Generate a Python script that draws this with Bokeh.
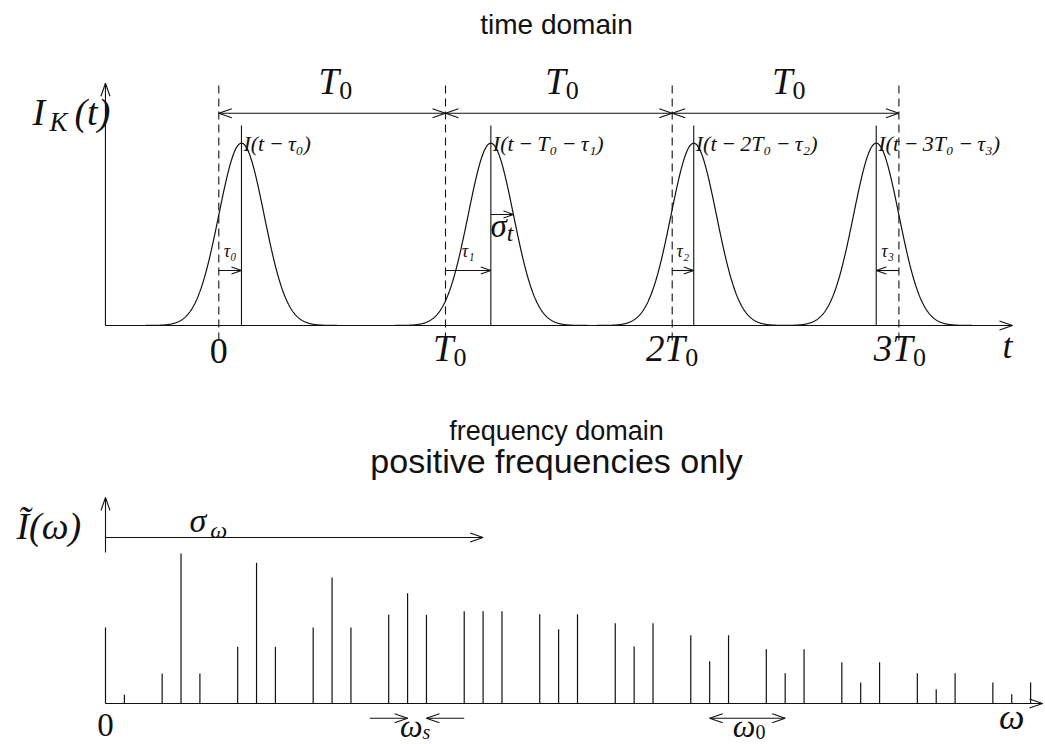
import numpy as np
from bokeh.plotting import figure
from bokeh.models import Range1d
from bokeh.layouts import column
from bokeh.embed import file_html
from bokeh.resources import INLINE
from bokeh.core.properties import value

# ---------------- data: time domain (t in units of T0) ----------------
pulse_index = [0, 1, 2, 3]
pulse_delay = [0.10, 0.20, 0.095, -0.10]      # tau_n / T0
sigma_t = 0.10                                 # pulse width / T0
tick_bases = ["", "T", "2T", "3T"]             # tick labels: base + subscript "0"
period_labels = ["T", "T", "T"]                # with subscript "0"
peak_labels = ["I(t\u2009−\u2009τ₀)", "I(t\u2009−\u2009T₀\u2009−\u2009τ₁)",
               "I(t\u2009−\u20092T₀\u2009−\u2009τ₂)", "I(t\u2009−\u20093T₀\u2009−\u2009τ₃)"]
tau_labels = ["τ₀", "τ₁", "τ₂", "τ₃"]

# ---------------- data: frequency domain (omega in units of omega_s) ---
omega_0 = 4            # harmonic spacing in units of omega_s
sigma_w = 20           # spectral width in units of omega_s
spec_freq = [0, 1,
             3, 4, 5, 7, 8, 9, 11, 12, 13, 15, 16, 17, 19, 20, 21, 23, 24, 25,
             27, 28, 29, 31, 32, 33, 35, 36, 37, 39, 40, 41, 43, 44, 45, 47, 48, 49]
spec_amp = [50.7, 5.8,
            20, 100, 20, 37.8, 93.8, 37.8, 50.7, 84, 50.7, 59.1, 73.5, 59.1,
            61.5, 61.5, 61.5, 59.5, 49.5, 59.5, 53.5, 38, 53.5, 45.5, 28.2, 45.5,
            36.2, 20.2, 36.2, 27.5, 14, 27.5, 20.2, 9.5, 20.2, 14, 6.2, 14]

W = 1045
H1 = 380
H2 = 364
SERIF = value("Liberation Serif")
SANS = value("Liberation Sans")
INK = "#111111"


def make_fig(h, xr, yr):
    p = figure(width=W, height=h, x_range=Range1d(*xr), y_range=Range1d(*yr),
               output_backend="svg", toolbar_location=None, min_border=0,
               x_axis_location=None, y_axis_location=None,
               outline_line_color=None, background_fill_color="white",
               border_fill_color="white")
    p.grid.visible = False
    return p


def harrow(p, x0, x1, y, sx, sy, start=False, end=True, L=13, H=4.5, lw=1.1):
    p.segment([x0], [y], [x1], [y], line_color=INK, line_width=lw)
    tips = []
    if end:
        tips.append((x1, 1 if x1 > x0 else -1))
    if start:
        tips.append((x0, -1 if x1 > x0 else 1))
    for xt, d in tips:
        p.segment([xt - d * L / sx] * 2, [y + H / sy, y - H / sy], [xt] * 2, [y] * 2,
                  line_color=INK, line_width=lw)


def varrow(p, x, y0, y1, sx, sy, L=13, H=4.5, lw=1.1):
    p.segment([x], [y0], [x], [y1], line_color=INK, line_width=lw)
    d = 1 if y1 > y0 else -1
    p.segment([x + H / sx, x - H / sx], [y1 - d * L / sy] * 2, [x] * 2, [y1] * 2,
              line_color=INK, line_width=lw)


def txt(p, x, y, s, size, italic=True, font=SERIF, align="center", xo=0, yo=0):
    p.text(x=[x], y=[y], text=[s], text_font=font,
           text_font_size=f"{size}px", text_font_style="italic" if italic else "normal",
           text_align=align, text_baseline="middle", text_color=INK,
           x_offset=xo, y_offset=yo)


def sublab(p, x, y, base, sub, size, subsize, xo, dy, sub_italic=False):
    """base text ends at the anchor (x + xo px); the subscript starts there, dy px lower."""
    if base:
        txt(p, x, y, base, size, align="right", xo=xo)
    txt(p, x, y, sub, subsize, italic=sub_italic, align="left", xo=xo, yo=dy)


# ======================= time domain =======================
sx1 = 226.7          # px per T0
sy1 = 182.3          # px per unit intensity
X0_1, Y0_1 = 218.3, 325.0     # screen position of t=0, I=0
t_left = -X0_1 / sx1
p1 = make_fig(H1, (t_left, t_left + W / sx1), (-(H1 - Y0_1) / sy1, Y0_1 / sy1))


def ty(ypx):
    return (Y0_1 - ypx) / sy1


t_ax0 = -0.5
t_ax1 = 3.501
t = np.linspace(t_ax0, 3.48, 2500)
I = np.zeros_like(t)
for n, tau in zip(pulse_index, pulse_delay):
    I += np.exp(-(t - n - tau) ** 2 / (2 * sigma_t ** 2))
p1.line(t, I, line_color=INK, line_width=1.2)

# axes
harrow(p1, t_ax0, t_ax1, 0, sx1, sy1)
varrow(p1, t_ax0, 0, 1.329, sx1, sy1)

# dashed period markers
p1.segment(x0=pulse_index, y0=[-0.082] * 4, x1=pulse_index, y1=[1.3165] * 4,
           line_color=INK, line_width=1.1, line_dash="8 5")

# pulse centre lines
centres = [n + tau for n, tau in zip(pulse_index, pulse_delay)]
p1.segment(x0=centres, y0=[0] * 4, x1=centres, y1=[1.097] * 4,
           line_color=INK, line_width=1.1)

# period arrows and labels
y_per = 1.1646
for n, lab in zip(pulse_index[:-1], period_labels):
    harrow(p1, n, n + 1, y_per, sx1, sy1, start=True, end=True)
    sublab(p1, n + 0.5, ty(81), lab, "0", 37, 26, 7, 9)

# delay arrows
for n, tau, lab in zip(pulse_index, pulse_delay, tau_labels):
    harrow(p1, n, n + tau, 0.3017, sx1, sy1, L=10, H=3.5)
    txt(p1, n + tau / 2, 0.41, lab, 18)

# peak labels
for c, lab in zip(centres, peak_labels):
    txt(p1, c, 1.0, lab, 22, align="left", xo=2)

# sigma_t
harrow(p1, centres[1], centres[1] + sigma_t, 0.609, sx1, sy1, L=10, H=3.5)
sublab(p1, centres[1], ty(225.8), "σ", "t", 33, 24, 16, 7, sub_italic=True)

# tick labels
tick_anchor = [0, 8, 13, 14]
for n, base, xo in zip(pulse_index, tick_bases, tick_anchor):
    if base:
        sublab(p1, n, ty(347.6), base, "0", 37, 26, xo, 9)
    else:
        txt(p1, n, ty(350), "0", 36, italic=False)
txt(p1, 3.479, ty(345), "t", 36)

# y label I_K(t)
txt(p1, t_ax0, ty(111.4), "I", 38, align="left", xo=-73)
txt(p1, t_ax0, ty(121.4), "K", 27, align="left", xo=-56)
txt(p1, t_ax0, ty(111.4), "(t)", 38, align="left", xo=-31)

# title
txt(p1, (556 - X0_1) / sx1, ty(24), "time domain", 28, italic=False, font=SANS)

# ======================= frequency domain =======================
sx2 = 18.88          # px per omega_s
sy2 = 1.5            # px per amplitude unit
X0_2, Y0_2 = 105.0, 703.0      # screen position of omega=0, amplitude 0 (page coords)
w_left = -X0_2 / sx2
p2 = make_fig(H2, (w_left, w_left + W / sx2), (-(H1 + H2 - Y0_2) / sy2, (Y0_2 - H1) / sy2))


def fy(ypx):
    return (Y0_2 - ypx) / sy2


p2.segment(x0=spec_freq, y0=[0] * len(spec_freq), x1=spec_freq, y1=spec_amp,
           line_color=INK, line_width=1.2)

harrow(p2, 0, (1042 - X0_2) / sx2, 0, sx2, sy2)
varrow(p2, 0, fy(552), fy(497), sx2, sy2)

# sigma_omega arrow
harrow(p2, 0, sigma_w, fy(537), sx2, sy2)
txt(p2, 4.45, fy(520), "σ", 34, align="left")
txt(p2, 5.55, fy(529), "ω", 24, align="left")

txt(p2, -3.0, fy(525), "Ĩ(ω)", 38)

txt(p2, 0, fy(724), "0", 33, italic=False)
txt(p2, 48.0, fy(716), "ω", 36)

# omega_s marker (between harmonic 4 and its sideband)
k_mark = 4
c_mark = k_mark * omega_0
harrow(p2, c_mark - 2, c_mark, fy(717.7), sx2, sy2)
harrow(p2, c_mark + 3, c_mark + 1, fy(717.7), sx2, sy2)
sublab(p2, c_mark, fy(725), "ω", "s", 32, 20, 15, 6, sub_italic=True)

# omega_0 marker
k0 = 8
harrow(p2, k0 * omega_0, (k0 + 1) * omega_0, fy(717.7), sx2, sy2, start=True, end=True)
sublab(p2, (k0 + 0.5) * omega_0, fy(725), "ω", "0", 32, 20, 8, 6)

# titles
txt(p2, (556 - X0_2) / sx2, fy(430.4), "frequency domain", 27, italic=False, font=SANS)
txt(p2, (556 - X0_2) / sx2, fy(460.5), "positive frequencies only", 34, italic=False, font=SANS)

layout = column(p1, p2, spacing=0)
open("out.html", "w").write(file_html(layout, INLINE))
